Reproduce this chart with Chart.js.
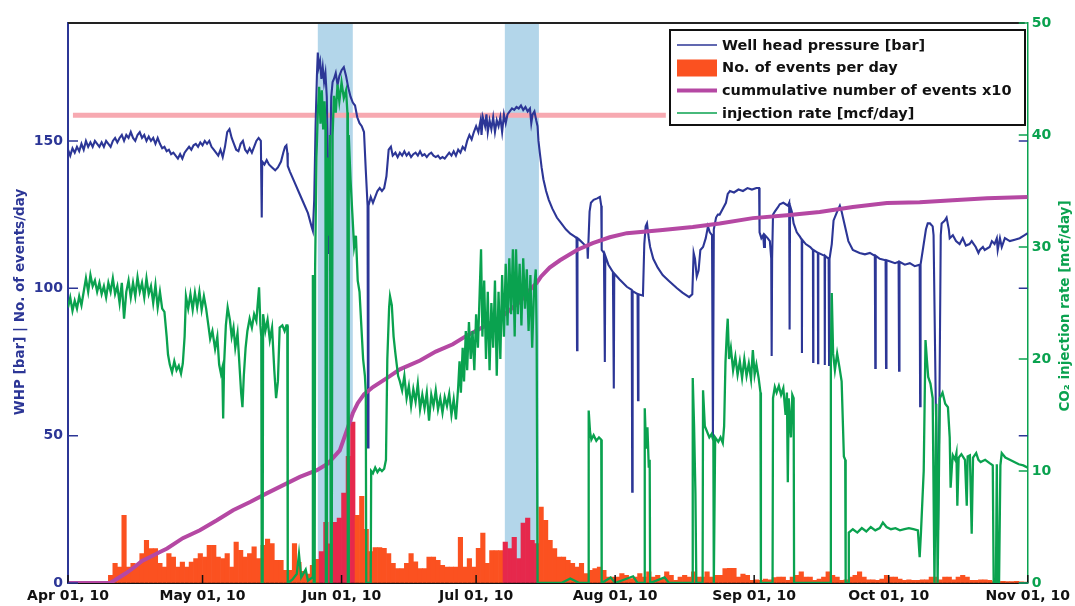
<!DOCTYPE html>
<html><head><meta charset="utf-8">
<script src="https://cdn.jsdelivr.net/npm/chart.js@4/dist/chart.umd.min.js"></script>
<style>html,body{margin:0;padding:0;background:#fff;}#wrap{width:1075px;height:606px;}</style>
</head><body><div id="wrap"><canvas id="c" width="1075" height="606"></canvas></div>
<script>
// ---- data (x = days since Apr 01, 2010) ----
const monthTickDays = [0,30,61,91,122,153,183,214];
const monthTickLabels = ['Apr 01, 10','May 01, 10','Jun 01, 10','Jul 01, 10','Aug 01, 10','Sep 01, 10','Oct 01, 10','Nov 01, 10'];
const whpTicks = [0,50,100,150];
const rateTicks = [0,10,20,30,40,50];
const shadedPeriods = [[55.7,63.5],[97.4,105.0]];
const maxPressureLevel = 158.7;
const maxPressureFrom = 1.1, maxPressureTo = 133.3;

const eventsStartDay = 9;
const eventsPerDay = [
 2.6,6.7,5.4,23,5.4,6.7,6,10,14.5,11.7,11.7,
 6.7,5.4,10,8.8,5.4,7.1,5.4,7.1,8.3,10,
 8.8,12.8,12.8,8.8,8.3,10,5.4,13.9,11.1,8.8,
 10,12.3,8.3,12.8,14.9,13.4,7.7,7.7,4.3,4.3,
 13.4,7,4,3,6,8,10.7,20.6,13.3,20.6,
 22,30.5,43,54.6,23,29.4,18.2,10.7,12,12,
 11.8,10,6.7,4.9,4.9,6.7,10,7.2,4.9,4.9,
 8.8,8.8,7.7,6,5.4,5.4,5.4,15.5,5.4,8.3,
 5.4,11.8,16.9,6.7,11,11,11,13.9,11.7,15.5,
 8.3,20.3,22,14.5,13.4,25.8,21.3,14.5,11.7,8.8,
 8.8,7.7,6.7,5.4,6.7,3.2,4.3,4.9,5.4,4.3,
 2,2,2,3.2,2.6,1.5,2,3.2,2,3.8,
 2,2.6,1.5,3.8,2.6,0.9,2,2.6,2,3.8,
 2,2,3.8,2,2.6,2.6,4.9,5,5,2,
 3,2.6,0.9,1.1,0.9,1.3,1.1,1.8,2,2,
 0.9,2,2.6,3.8,2,2,0.9,1.3,2,3.8,
 2.6,2,0.9,1.1,2,2.6,3.8,2,1.1,1.1,
 0.9,1.3,2.6,2,2,1.3,0.9,1.1,0.9,0.9,
 1.1,1.1,2,2,1.1,2,2,1.1,2,2.6,
 2,0.9,0.9,1.1,1.1,0.9,0.5,0.5,0.6,0.5,
 0.5,0.6,0.4,0.3
];

const cumulativeX10 = [[0,0],[9.4,0],[10.5,1],[12.9,3.3],[14.9,5.5],[16.5,7.5],[18.3,8.8],[20.5,10.5],[22.1,11.7],[25.6,15.2],[29.4,17.9],[33.2,21.3],[36.8,24.7],[40.6,27.5],[44.4,30.5],[48,33.2],[51.7,36],[55.5,38.3],[58,40.6],[60.6,45],[62,51],[63.5,57.6],[64.6,61],[66,64],[68,66.5],[71.6,70],[74,72.5],[78.5,75.5],[82,78.5],[85.8,81],[89,84],[93.4,87.5],[97.2,91],[100.8,95.5],[103,99.5],[104.5,101.8],[105.5,104],[107.4,107],[109.7,109.5],[113.5,113],[117,115.3],[120.8,117.3],[124.6,118.7],[132,119.7],[139.3,120.8],[145.3,122],[152.7,123.8],[160.3,124.8],[167.6,125.9],[175,127.6],[182.6,128.9],[189.9,129.2],[197.3,129.9],[204.9,130.5],[214,131]];

const wellHeadPressure = [[0,147],[0.5,145],[1,147.5],[1.5,146],[2,148],[2.5,146.5],[3,149],[3.5,147],[4,150],[4.5,148],[5,149.5],[5.5,148],[6,150],[6.5,149],[7,148],[7.5,149.5],[8,148],[8.5,150],[9,149],[9.5,148],[10,150],[10.5,151],[11,149.5],[11.5,151],[12,152],[12.5,150],[13,152],[13.5,151],[14,153],[14.5,151],[15,150],[15.5,152],[16,153],[16.5,151],[17,152],[17.5,150],[18,151.5],[18.5,150],[19,151],[19.5,149],[20,151],[20.5,149],[21,147.5],[21.5,148],[22,146.5],[22.5,147],[23,145.5],[23.5,146],[24,145],[24.5,144],[25,145.5],[25.5,144],[26,146],[26.5,147],[27,148],[27.5,147],[28,148.5],[28.5,149],[29,148],[29.5,149.5],[30,148.5],[30.5,150],[31,149],[31.5,150],[32,148],[32.5,147],[33,146],[33.5,145],[34,147],[34.5,144.5],[35,148],[35.5,153],[36,154],[36.5,151],[37,149],[37.5,147],[38,146.5],[38.5,149],[39,150],[39.5,147],[40,146],[40.5,147.5],[41,146],[41.5,148],[42,150],[42.5,151],[43,150],[43.2,124],[43.3,143],[43.8,142],[44.3,143.5],[44.8,142],[45.5,141],[46.2,140],[46.8,141],[47.5,143],[48,146],[48.4,148],[48.7,148.5],[48.9,146],[49,141.5],[49.5,139.5],[50.5,136],[51.5,132.5],[52.5,129],[53.5,125.5],[54.3,121],[54.6,119.5],[54.9,130],[55.2,155],[55.5,172],[55.7,180],[55.9,175],[56.2,177],[56.5,171],[56.8,175],[57.1,170],[57.4,173],[57.7,165],[58.0,140],[58.2,112],[58.4,140],[58.7,165],[59.0,170],[59.3,171],[59.7,173],[60.1,169],[60.5,172],[61,174],[61.5,175],[62,172],[62.5,168],[63,165],[63.5,163],[64,162],[64.5,158],[65,156],[65.5,155],[66,153],[66.4,140],[66.8,128],[66.9,46],[67.0,128],[67.5,131],[68,129],[68.5,131],[69,133],[69.5,134],[70,133],[70.5,134],[71,138],[71.5,147],[72,148],[72.4,145],[73,146],[73.5,144.5],[74,146],[74.5,145],[75,146.5],[75.5,145],[76,146],[76.5,144.5],[77,145.5],[77.5,146],[78,145],[78.5,146.5],[79,145],[79.5,145.5],[80,144.5],[80.5,145.5],[81,146],[81.5,145],[82,144.5],[82.5,145],[83,144],[83.5,144.5],[84,144],[84.5,145],[85,146],[85.5,145],[86,146.5],[86.5,145],[87,147],[87.5,146],[88,148],[88.5,147],[89,150],[89.5,152],[90,150.5],[90.5,153],[91,155],[91.5,153],[92,157],[92.2,152],[92.5,158],[93,155],[93.3,159],[93.6,153],[94,157],[94.4,154],[94.8,158],[95.2,153],[95.6,157],[96,155],[96.4,158],[96.8,153],[97.2,159],[97.6,156],[98,159],[98.5,160],[99,161],[99.5,160.5],[100,161.5],[100.5,161],[101,162],[101.5,160.5],[102,161.5],[102.5,160],[103,161],[103.3,156],[103.6,159],[104,160],[104.4,157],[104.7,155],[104.9,150],[105.2,146],[105.6,141],[106,137],[106.6,133],[107.2,130],[108,127],[109,124],[110,122],[111,120],[112,118.5],[113,117.5],[113.4,117],[113.5,79],[113.6,117],[114,116.5],[115,115],[115.8,114],[115.9,110],[116,114],[116.3,126],[116.6,129],[117.2,130],[118,130.5],[118.6,131],[118.9,128],[119.0,113],[119.5,112],[119.7,75],[119.8,111],[120.5,108],[121.5,105.5],[121.7,66],[121.8,105],[123,103],[124.6,100.5],[125.7,99.5],[125.8,31],[125.9,99],[127,98],[127.1,62],[127.2,98],[128.2,97.5],[128.5,115],[128.8,121],[129.1,122],[129.5,117],[129.8,114],[130.5,110],[131.5,107],[132.6,104.5],[134,102.5],[135.8,100],[137,98.5],[138.5,97],[139.2,98],[139.5,112],[139.8,110],[140.2,104],[140.6,106],[141,113],[141.6,114],[142.2,117],[142.7,121],[143.1,119],[143.6,118],[143.8,49],[144.0,120],[144.5,124],[144.9,125],[145.3,125],[146,127],[146.7,129],[147.1,132],[147.6,133],[148.5,132.5],[149.5,133.5],[150.5,133],[151.5,134],[152.5,133.5],[153.5,134],[154.1,134],[154.2,119],[154.6,117],[155,118],[155.2,114],[155.4,118],[156,117],[156.5,116],[156.8,110],[156.9,77],[157.0,110],[157.2,125],[157.6,126],[158.3,127.5],[158.7,128.5],[159.5,129],[160.5,128],[160.8,129],[160.9,86],[161.0,128],[161.4,126],[161.8,122],[162.5,119],[163.2,117.5],[163.6,116.5],[163.65,78],[163.7,116.5],[164.5,115],[165.5,114],[166.1,113],[166.15,75],[166.2,113],[167.2,112],[167.25,74.6],[167.3,112],[168.7,111],[168.75,74],[168.8,111],[169.6,110],[169.7,74],[169.8,110],[170.3,115],[170.7,123],[171.5,126],[172.1,128],[172.5,126],[172.8,124],[173.4,120],[174,116],[175,113],[176.5,112],[177.7,111.5],[178.8,112],[179.9,111],[180.0,73],[180.1,111],[181,110],[182.3,109.5],[182.4,73],[182.5,109.5],[183.5,109],[184.4,108.5],[185.2,109],[185.3,72],[185.4,109],[186.6,108],[187.7,108.5],[188.8,107.5],[189.9,108],[190.0,60],[190.1,108],[190.7,114],[191.3,120],[191.7,122],[192.2,122],[192.8,121],[193.0,118],[193.5,60],[194.0,18],[194.3,60],[194.6,118],[194.8,122],[195.5,123],[195.9,124],[196.4,120],[196.6,117],[197.3,118],[198,116],[198.8,115],[199.5,117],[200.2,114.5],[201,115],[201.5,116],[202.4,114],[203,112],[203.3,113],[204,114],[204.4,113],[205.5,114],[206,116],[206.6,115],[207.1,117],[207.3,113],[207.8,117],[208.2,114],[208.9,117],[210,116],[211.1,116.5],[212.2,117],[213.3,118],[214,118.7]];

const injectionRate = [[0,24.6],[0.5,25.5],[1,24.3],[1.5,25.2],[2,24.5],[2.5,25.6],[3,24.8],[3.5,26],[4,27.2],[4.5,26],[5,27.5],[5.5,26.5],[6,27],[6.5,26],[7,26.8],[7.5,25.8],[8,26.5],[8.5,25.5],[9,26.8],[9.5,26],[10,27.2],[10.5,25.8],[11,26.5],[11.5,25],[12,26.8],[12.5,23.6],[13,26],[13.5,27],[14,25.5],[14.5,26.8],[15,25.6],[15.5,27.3],[16,26],[16.5,26.8],[17,25.5],[17.5,27.2],[18,25.8],[18.5,26.5],[19,25],[19.5,26.6],[20,24.6],[20.5,26],[21,24.5],[21.5,24.2],[22,22],[22.3,20.4],[22.7,19.5],[23.2,18.8],[23.7,19.8],[24.2,19],[24.7,19.4],[25.2,18.7],[25.6,19.6],[26,22],[26.3,25.6],[26.8,24.5],[27.3,25.8],[27.8,24.4],[28.3,25.9],[28.8,24.6],[29.3,26],[29.8,24.4],[30.3,25.6],[30.8,24.5],[31.3,23],[31.7,21.8],[32.2,22.5],[32.8,20.9],[33.3,22],[33.7,19.5],[34.1,18.7],[34.4,19.2],[34.6,14.7],[34.8,19.5],[35.2,23],[35.6,24.6],[36.1,23.5],[36.5,22],[36.9,22.8],[37.3,21],[37.8,22.3],[38.3,19],[38.6,17],[38.9,15.7],[39.2,18.5],[39.6,21],[40,22.5],[40.5,23.6],[41,22.8],[41.5,24],[42,23.4],[42.6,26.4],[42.9,23],[43.1,22],[43.2,0],[43.4,0],[43.5,24],[44,22.5],[44.5,23.5],[45,21.7],[45.5,22.8],[46,19],[46.4,16.5],[46.8,18],[47.2,22.8],[47.8,23],[48.3,22.5],[48.7,23],[48.9,23],[49.0,0],[50,0.3],[51,0.8],[51.5,2.6],[52,0.5],[53,1.2],[53.5,0.2],[54.5,0.5],[54.6,27.5],[54.8,0],[55.0,0],[55.1,28],[55.4,38],[55.7,42],[56.0,44.3],[56.3,41],[56.6,44],[56.9,40.5],[57.2,43],[57.4,41],[57.5,0],[57.7,0],[57.8,38],[58.1,31],[58.4,40],[58.6,0],[58.8,0],[59.0,40],[59.3,43.5],[59.7,42],[60.1,44.5],[60.5,43],[61,44.7],[61.5,43.3],[62,44],[62.3,42],[62.4,0],[62.5,0],[62.6,40],[63,36],[63.4,33],[63.8,30],[64.2,31],[64.6,27],[65,26],[65.4,23],[65.8,20],[66.2,18.5],[66.4,17],[66.5,0],[67.5,0],[67.6,10],[68,9.8],[68.5,10.3],[69,9.9],[69.5,10.2],[70,10],[70.5,10.2],[70.9,11],[71.2,20],[71.6,24.6],[71.8,25.6],[72.2,24.8],[72.6,22],[73,20.5],[73.6,18.5],[74,18],[74.5,17.2],[75,18.5],[75.5,16.5],[76,17.6],[76.5,15.8],[77,17.3],[77.5,16.2],[78,17.8],[78.5,15.5],[79,16.8],[79.5,15.6],[80,17],[80.5,14.5],[81,16.8],[81.5,15.8],[82,17.2],[82.5,15.5],[83,16.5],[83.5,15.2],[84,16.6],[84.5,15.8],[85,16.9],[85.5,15],[86,16.4],[86.5,14.6],[87,17.5],[87.3,19.8],[87.6,17],[88,21],[88.3,18],[88.7,22.5],[89,19],[89.4,23.3],[89.8,20],[90.2,22.5],[90.6,19],[91,24],[91.4,21],[91.8,26],[92.1,29.8],[92.4,22],[92.8,27],[93.2,20],[93.6,26],[94,19],[94.4,25],[94.8,21],[95.2,27],[95.6,18.5],[96,26],[96.4,20],[96.8,27.5],[97.2,22],[97.6,28.5],[98,23],[98.4,29],[98.8,24],[99.2,29.8],[99.6,22],[99.9,29.8],[100.3,24],[100.7,28.5],[101.1,23],[101.5,29],[101.9,24.5],[102.3,28],[102.7,22.5],[103.1,27.5],[103.5,21],[103.9,26],[104.3,28],[104.5,22],[104.7,0],[110,0],[112,0.4],[114,0],[116,0],[116.1,15.4],[116.4,13.5],[116.7,12.8],[117.2,13.2],[117.8,12.7],[118.4,13],[118.9,12.8],[119.0,0],[121,0.5],[122,0],[126,0.6],[127,0],[128.5,0],[128.6,15.6],[128.9,12],[129.2,13.9],[129.5,10.3],[129.7,11],[129.8,0],[133,0.5],[134,0],[139.2,0],[139.3,18.3],[139.6,14],[139.9,8],[140.1,0],[141.5,0],[141.6,17.2],[142,14],[142.5,13.5],[143,13],[143.5,13.3],[143.9,12.7],[144.0,0],[144.3,13],[145,12.6],[145.5,13],[146,12.5],[146.3,14],[146.6,19.7],[146.9,22.3],[147.1,23.6],[147.4,20],[147.8,21],[148.3,19],[148.8,20.2],[149.3,18.6],[149.8,19.8],[150.3,18.3],[150.8,20],[151.3,18.5],[151.8,19.6],[152.3,18.2],[152.7,20.8],[153.1,18.6],[153.5,19.5],[154,18.3],[154.4,17],[154.5,0],[157.1,0],[157.2,16.5],[157.6,17.5],[158,17],[158.5,17.6],[159,16.8],[159.5,17.4],[160,15],[160.3,17],[160.5,9],[160.7,16.5],[161.2,13],[161.5,16.8],[161.8,16.5],[161.9,0],[170.0,0],[170.1,20],[170.3,25.9],[170.6,20.5],[171,19],[171.5,20.5],[172,19.3],[172.5,18],[172.8,14],[173,11.3],[173.3,11],[173.4,0],[174.0,0],[174.1,4.5],[175,4.8],[176,4.5],[177,4.9],[178,4.6],[179,5],[180,4.7],[181,4.9],[181.7,5.4],[182.5,5],[183.5,4.8],[184.5,4.9],[185.5,4.7],[186.5,4.8],[187.5,4.9],[188.5,4.8],[189.5,4.7],[189.9,2.3],[190.2,4.6],[190.8,10],[191.2,21.7],[191.5,20],[191.8,18.4],[192.3,17.8],[192.8,16.5],[193.2,0],[193.6,16],[193.9,0],[194.4,16.5],[195,17],[195.6,16],[196.2,15.7],[196.6,13],[196.8,8.5],[197.1,10.5],[197.3,11.4],[197.8,11],[198.1,11.6],[198.3,6.9],[198.6,11.2],[199.2,11.5],[200,11],[200.4,6.9],[200.6,11.3],[201.1,11.4],[201.5,4.4],[201.8,11.2],[202.5,11.6],[203,11],[203.5,10.8],[204.5,11],[205.5,10.7],[206.2,10.5],[206.4,0],[206.9,0],[207.1,10.6],[207.3,0],[207.6,0],[207.9,10.5],[208.2,11.6],[209,11.2],[210,11],[211,10.8],[212,10.6],[213,10.5],[214,10.3]];

// ---- styling ----
const BLUE = '#2c3696', GREEN = '#0aa24f', PURPLE = '#b548a3', ORANGE = '#fb5120', CRIMSON = '#e6284c', PINK = '#f7a9b1', BAND = '#b3d6ea';
const FONT = 'DejaVu Sans';
const inBand = d => shadedPeriods.some(p => d >= p[0] && d <= p[1]);
const toXY = arr => arr.map(p => ({x: p[0], y: p[1]}));

const bandPlugin = {
  id: 'bands',
  beforeDatasetsDraw(chart) {
    const {ctx, chartArea: a, scales: {x}} = chart;
    ctx.save(); ctx.fillStyle = BAND;
    shadedPeriods.forEach(p => {
      const x0 = x.getPixelForValue(p[0]), x1 = x.getPixelForValue(p[1]);
      ctx.fillRect(x0, a.top + 1, x1 - x0, a.bottom - a.top - 2);
    });
    ctx.restore();
  }
};

const framePlugin = {
  id: 'frame',
  afterDatasetsDraw(chart) {
    const {ctx, chartArea: a, scales: {x, y, y1}} = chart;
    ctx.save();
    ctx.strokeStyle = '#222'; ctx.lineWidth = 2;
    ctx.beginPath(); ctx.moveTo(a.left, a.top); ctx.lineTo(a.right - 3, a.top); ctx.stroke();
    ctx.lineWidth = 1.5;
    ctx.strokeStyle = '#111';
    monthTickDays.forEach(v => { const px = x.getPixelForValue(v); ctx.beginPath(); ctx.moveTo(px, a.bottom); ctx.lineTo(px, a.bottom - 8); ctx.stroke(); });
    ctx.strokeStyle = BLUE;
    whpTicks.forEach(v => { const py = y.getPixelForValue(v); ctx.beginPath(); ctx.moveTo(a.left, py); ctx.lineTo(a.left + 10, py); ctx.moveTo(a.right, py); ctx.lineTo(a.right - 9, py); ctx.stroke(); });
    ctx.strokeStyle = GREEN;
    rateTicks.forEach(v => { const py = y1.getPixelForValue(v); ctx.beginPath(); ctx.moveTo(a.right, py); ctx.lineTo(a.right - 9, py); ctx.stroke(); });
    ctx.font = 'bold 13.5px "' + FONT + '"';
    ctx.textAlign = 'center'; ctx.textBaseline = 'middle';
    ctx.fillStyle = BLUE;
    ctx.save(); ctx.translate(20, 302); ctx.rotate(-Math.PI / 2); ctx.fillText('WHP [bar] | No. of events/day', 0, 0); ctx.restore();
    ctx.fillStyle = GREEN;
    ctx.save(); ctx.translate(1065, 306); ctx.rotate(-Math.PI / 2); ctx.fillText('CO\u2082 injection rate [mcf/day]', 0, 0); ctx.restore();
    const lx = 670, ly = 30, lw = 355, lh = 95;
    ctx.fillStyle = '#fff'; ctx.fillRect(lx, ly, lw, lh);
    ctx.strokeStyle = '#111'; ctx.lineWidth = 2; ctx.strokeRect(lx, ly, lw, lh);
    const ds = chart.data.datasets;
    const rows = [{d: ds[1], kind: 'line', w: 1.5}, {d: ds[0], kind: 'box'}, {d: ds[2], kind: 'line', w: 4}, {d: ds[3], kind: 'line', w: 1.5}];
    const rowY = [45, 67.5, 90.5, 113];
    ctx.font = 'bold 14.5px "' + FONT + '"'; ctx.textAlign = 'left';
    rows.forEach((r, i) => {
      const cy = rowY[i];
      if (r.kind === 'box') { ctx.fillStyle = ORANGE; ctx.fillRect(677, cy - 8, 40, 17); }
      else { ctx.strokeStyle = r.d.borderColor; ctx.lineWidth = r.w; ctx.beginPath(); ctx.moveTo(677, cy); ctx.lineTo(717, cy); ctx.stroke(); }
      ctx.fillStyle = '#111'; ctx.fillText(r.d.label, 722, cy + 1);
    });
    ctx.restore();
  }
};

const tickFont = {family: FONT, weight: 'bold', size: 14};

new Chart(document.getElementById('c'), {
  type: 'line',
  data: {
    datasets: [
      {type: 'bar', label: 'No. of events per day', yAxisID: 'y', order: 5,
       data: eventsPerDay.map((v, i) => ({x: eventsStartDay + i + 0.5, y: v})),
       backgroundColor: c => inBand(c.raw ? c.raw.x : 0) ? CRIMSON : ORANGE,
       borderWidth: 0, barPercentage: 1, categoryPercentage: 1},
      {label: 'Well head pressure [bar]', yAxisID: 'y', order: 4, data: toXY(wellHeadPressure),
       borderColor: BLUE, borderWidth: 2.1, pointRadius: 0, tension: 0, fill: false},
      {label: 'cummulative number of events x10', yAxisID: 'y', order: 3, data: toXY(cumulativeX10),
       borderColor: PURPLE, borderWidth: 4, pointRadius: 0, tension: 0, fill: false},
      {label: 'injection rate [mcf/day]', yAxisID: 'y1', order: 2, data: toXY(injectionRate),
       borderColor: GREEN, borderWidth: 2.3, pointRadius: 0, tension: 0, fill: false},
      {label: 'max pressure', yAxisID: 'y', order: 6,
       data: [{x: maxPressureFrom, y: maxPressureLevel}, {x: maxPressureTo, y: maxPressureLevel}],
       borderColor: PINK, borderWidth: 5, pointRadius: 0, fill: false}
    ]
  },
  options: {
    responsive: false, animation: false, devicePixelRatio: 1,
    layout: {padding: {top: 23, left: 0, right: 0, bottom: 0}},
    plugins: {legend: {display: false}, tooltip: {enabled: false}, title: {display: false}},
    scales: {
      x: {type: 'linear', min: 0, max: 214, offset: false,
          grid: {display: true, drawOnChartArea: false, drawTicks: false},
          border: {display: true, color: '#111', width: 2},
          ticks: {autoSkip: false, maxRotation: 0, minRotation: 0, padding: 5, color: '#111', font: tickFont,
                  callback: v => { const i = monthTickDays.indexOf(v); return i >= 0 ? monthTickLabels[i] : ''; }},
          afterBuildTicks: s => { s.ticks = monthTickDays.map(v => ({value: v})); },
          afterFit: s => { s.height = 23; }},
      y: {type: 'linear', position: 'left', min: 0, max: 190,
          grid: {display: true, drawOnChartArea: false, drawTicks: false},
          border: {display: true, color: BLUE, width: 2},
          ticks: {padding: 5, color: BLUE, font: tickFont},
          afterBuildTicks: s => { s.ticks = whpTicks.map(v => ({value: v})); },
          afterFit: s => { s.width = 68; }},
      y1: {type: 'linear', position: 'right', min: 0, max: 50,
          grid: {display: true, drawOnChartArea: false, drawTicks: false},
          border: {display: true, color: GREEN, width: 1.5},
          ticks: {padding: 4, color: GREEN, font: tickFont},
          afterBuildTicks: s => { s.ticks = rateTicks.map(v => ({value: v})); },
          afterFit: s => { s.width = 47; }}
    }
  },
  plugins: [bandPlugin, framePlugin]
});
</script></body></html>
